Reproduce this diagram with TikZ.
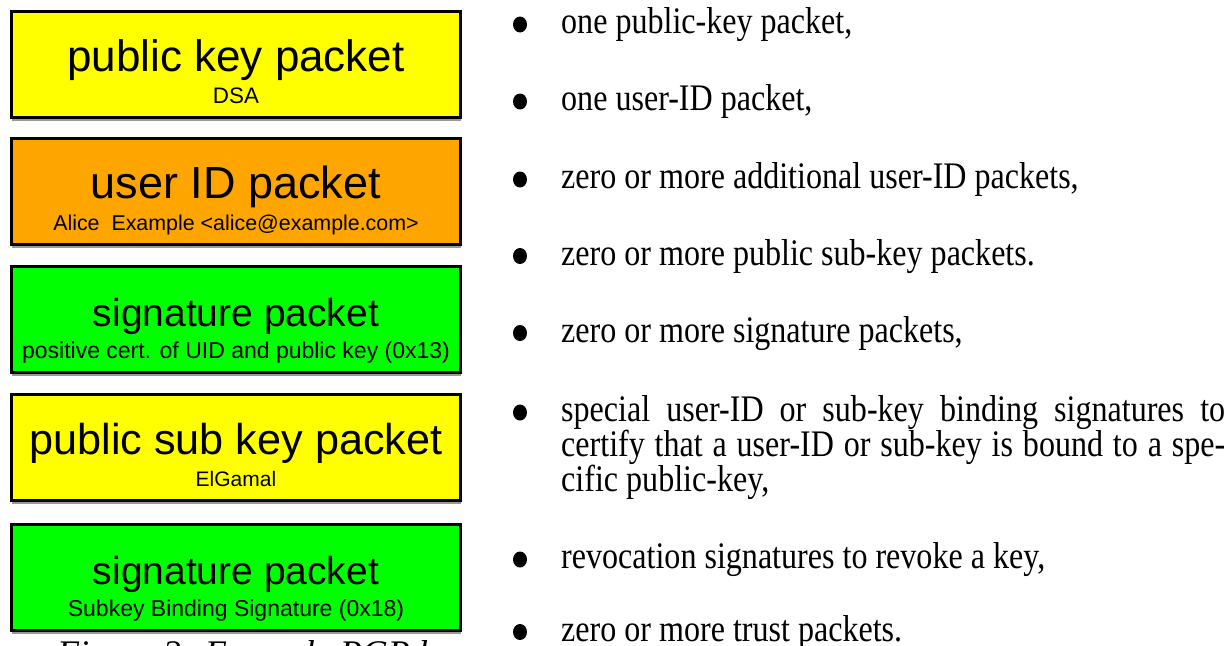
\documentclass[tikz,border=0pt]{standalone}
\usepackage{fontspec}
\setmainfont{Liberation Serif}[FakeStretch=0.855]
\newfontfamily\capfont{Liberation Serif}
\newfontfamily\pktfont{Liberation Sans}
\usetikzlibrary{shadows}
\definecolor{pktyellow}{RGB}{255,255,0}
\definecolor{pktorange}{RGB}{255,165,0}
\definecolor{pktgreen}{RGB}{0,255,0}
\begin{document}
\begin{tikzpicture}[x=1pt,y=-1pt]
	\def\bx{520}
	\def\tx{561}
	\tikzset{p/.style={draw=black,line width=3pt,minimum width=449pt,minimum height=106pt,inner sep=0pt,
			drop shadow={shadow xshift=0pt,shadow yshift=-3pt,fill=black!40,opacity=1}},
		t/.style={anchor=base,inner sep=0pt,font=\pktfont\fontsize{#1}{#1}\selectfont},
		li/.style={anchor=base west,inner sep=0pt,font=\fontsize{37.5}{35}\selectfont}}
	\useasboundingbox(0,0)rectangle(1231,645);
	% the key packets, one below the other
	\foreach \y/\n/\c/\fs/\ttl/\ss/\sub in {
		64.5/pk/pktyellow/44/public key packet/22.4/DSA,
		191.5/uid/pktorange/45/user ID packet/21.4/{Alice\ \ Example <alice@example.com>},
		319.5/sig/pktgreen/39/signature packet/23/{positive cert. of UID and public key (0x13)},
		447.5/sk/pktyellow/43.2/public sub key packet/21/ElGamal,
		577.5/ssig/pktgreen/39/signature packet/23/{Subkey Binding Signature (0x18)}}
	\path(236,\y)node[p,fill=\c](\n){}
		(\n.north)++(0,61.5)node[t=\fs](\n-t){\ttl}
		(\n.north)++(0,93)node[t=\ss](\n-s){\sub};
	\path(57,665)node[anchor=base west,inner sep=0pt,font=\capfont\itshape\fontsize{36}{36}\selectfont](cap){Figure 2: Example PGP key};
	% list of what a key holds
	\foreach \y in {33.5,110.5,188.5,265,342,421.5,568.5,641}
	\fill(\bx,{\y-9})ellipse(7pt and 8pt);
	\foreach \y/\n/\txt in {
		33.5/one/{one public-key packet,},
		110.5/two/{one user-ID packet,},
		188.5/three/{zero or more additional user-ID packets,},
		265/four/{zero or more public sub-key packets.},
		342/five/{zero or more signature packets,},
		568.5/seven/{revocation signatures to revoke a key,},
		641/eight/{zero or more trust packets.}}
	\path(\tx,\y)node[li](\n){\txt};
	\path(\tx,421.5)node[li,text width=664pt,align=justify](six){special user-ID or sub-key binding signatures to\linebreak certify that a user-ID or sub-key is bound to a spe-\linebreak cific public-key,};
\end{tikzpicture}
\end{document}
